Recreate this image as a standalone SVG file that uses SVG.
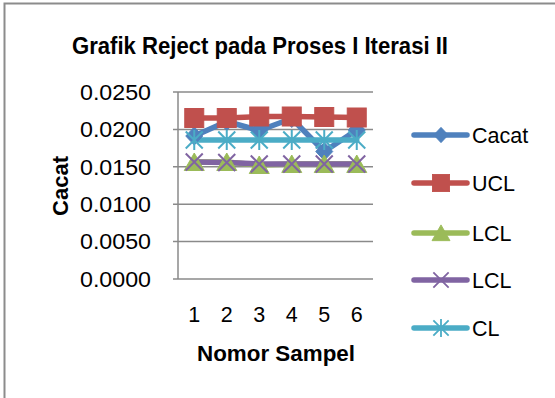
<svg xmlns="http://www.w3.org/2000/svg" xmlns:xlink="http://www.w3.org/1999/xlink" width="555" height="398" viewBox="0 0 555 398">
<style>
text{font-family:"Liberation Sans",Arial,sans-serif;fill:#000}
.t{font-size:23.5px;font-weight:bold}
.ax{font-size:22px;font-weight:bold}
.lbl{font-size:21.5px}
.grid{stroke:#8a8a8a;stroke-width:1.5;fill:none}
.ser{fill:none;stroke-width:5.5;stroke-linecap:round;stroke-linejoin:round}
.blue{stroke:#4F81BD}.red{stroke:#C0504D}.green{stroke:#9BBB59}.purple{stroke:#8064A2}.cyan{stroke:#4BACC6}
</style>
<defs>
<path id="mDia" d="M0,-9 L8.5,0 L0,9 L-8.5,0Z" fill="#4F81BD" stroke="#4F81BD" stroke-width="1"/>
<rect id="mSq" x="-9.5" y="-9.5" width="19" height="19" fill="#C0504D" stroke="#C0504D" stroke-width="1"/>
<path id="mTri" d="M0,-9 L10,8.5 L-10,8.5Z" fill="#9BBB59" stroke="#9BBB59" stroke-width="1"/>
<path id="mX" d="M-8.5,-8.5 L8.5,8.5 M8.5,-8.5 L-8.5,8.5" fill="none" stroke="#8064A2" stroke-width="2"/>
<path id="mStar" d="M-8.5,-8.5 L8.5,8.5 M8.5,-8.5 L-8.5,8.5 M0,-10 L0,10" fill="none" stroke="#4BACC6" stroke-width="2"/>
</defs>
<rect width="555" height="398" fill="#fff"/>
<path d="M4.5,398 L4.5,3.5 L555,3.5" fill="none" stroke="#8c8c8c" stroke-width="2"/>
<text class="t" x="260" y="53.5" text-anchor="middle" textLength="376" lengthAdjust="spacingAndGlyphs">Grafik Reject pada Proses I Iterasi II</text>
<g id="axes">
<path class="grid" d="M173,92 H373 M173,129.4 H373 M173,166.8 H373 M173,204.2 H373 M173,241.6 H373 M173,279 H373 M178,92 V279"/>
<g class="lbl" text-anchor="end">
<text x="151" y="99.8" textLength="71" lengthAdjust="spacingAndGlyphs">0.0250</text>
<text x="151" y="137.2" textLength="71" lengthAdjust="spacingAndGlyphs">0.0200</text>
<text x="151" y="174.6" textLength="71" lengthAdjust="spacingAndGlyphs">0.0150</text>
<text x="151" y="212" textLength="71" lengthAdjust="spacingAndGlyphs">0.0100</text>
<text x="151" y="249.4" textLength="71" lengthAdjust="spacingAndGlyphs">0.0050</text>
<text x="151" y="286.8" textLength="71" lengthAdjust="spacingAndGlyphs">0.0000</text>
</g>
<g class="lbl" text-anchor="middle">
<text x="194.25" y="321.5">1</text>
<text x="226.75" y="321.5">2</text>
<text x="259.25" y="321.5">3</text>
<text x="291.75" y="321.5">4</text>
<text x="324.25" y="321.5">5</text>
<text x="356.75" y="321.5">6</text>
</g>
<text class="ax" x="276" y="360.5" text-anchor="middle" textLength="158" lengthAdjust="spacingAndGlyphs">Nomor Sampel</text>
<text class="ax" transform="translate(67.5,186) rotate(-90)" text-anchor="middle">Cacat</text>
</g>
<g id="connectors">
<polyline class="ser blue" points="194.25,136 226.75,121.5 259.25,130.5 291.75,118.5 324.25,151.5 356.75,130"/>
<polyline class="ser red" points="194.25,118 226.75,118 259.25,116.5 291.75,116.5 324.25,117 356.75,117.5"/>
<polyline class="ser green" points="194.25,162 226.75,162 259.25,165 291.75,164 324.25,164 356.75,164"/>
<polyline class="ser purple" points="194.25,162 226.75,162.5 259.25,164 291.75,164 324.25,164 356.75,164"/>
<polyline class="ser cyan" points="194.25,140 226.75,140 259.25,140 291.75,140 324.25,140 356.75,140"/>
</g>
<g id="series-cacat">
<use xlink:href="#mDia" x="194.25" y="136"/><use xlink:href="#mDia" x="226.75" y="121.5"/><use xlink:href="#mDia" x="259.25" y="130.5"/><use xlink:href="#mDia" x="291.75" y="118.5"/><use xlink:href="#mDia" x="324.25" y="151.5"/><use xlink:href="#mDia" x="356.75" y="130"/>
</g>
<g id="series-ucl">
<use xlink:href="#mSq" x="194.25" y="118"/><use xlink:href="#mSq" x="226.75" y="118"/><use xlink:href="#mSq" x="259.25" y="116.5"/><use xlink:href="#mSq" x="291.75" y="116.5"/><use xlink:href="#mSq" x="324.25" y="117"/><use xlink:href="#mSq" x="356.75" y="117.5"/>
</g>
<g id="series-lcl1">
<use xlink:href="#mTri" x="194.25" y="162"/><use xlink:href="#mTri" x="226.75" y="162"/><use xlink:href="#mTri" x="259.25" y="165"/><use xlink:href="#mTri" x="291.75" y="164"/><use xlink:href="#mTri" x="324.25" y="164"/><use xlink:href="#mTri" x="356.75" y="164"/>
</g>
<g id="series-lcl2">
<use xlink:href="#mX" x="194.25" y="162"/><use xlink:href="#mX" x="226.75" y="162.5"/><use xlink:href="#mX" x="259.25" y="164"/><use xlink:href="#mX" x="291.75" y="164"/><use xlink:href="#mX" x="324.25" y="164"/><use xlink:href="#mX" x="356.75" y="164"/>
</g>
<g id="series-cl">
<use xlink:href="#mStar" x="194.25" y="140"/><use xlink:href="#mStar" x="226.75" y="140"/><use xlink:href="#mStar" x="259.25" y="140"/><use xlink:href="#mStar" x="291.75" y="140"/><use xlink:href="#mStar" x="324.25" y="140"/><use xlink:href="#mStar" x="356.75" y="140"/>
</g>
<g id="legend">
<g id="leg-cacat"><line class="ser blue" x1="414" y1="135" x2="467" y2="135"/><use xlink:href="#mDia" transform="translate(441,135) scale(0.85)"/><text class="lbl" x="472" y="142.8">Cacat</text></g>
<g id="leg-ucl"><line class="ser red" x1="414" y1="183" x2="467" y2="183"/><use xlink:href="#mSq" transform="translate(441,183) scale(0.9)"/><text class="lbl" x="472" y="190.8">UCL</text></g>
<g id="leg-lcl1"><line class="ser green" x1="414" y1="233" x2="467" y2="233"/><use xlink:href="#mTri" transform="translate(441,233) scale(0.9)"/><text class="lbl" x="472" y="240.8">LCL</text></g>
<g id="leg-lcl2"><line class="ser purple" x1="414" y1="280" x2="467" y2="280"/><use xlink:href="#mX" transform="translate(441,280) scale(0.9)"/><text class="lbl" x="472" y="287.8">LCL</text></g>
<g id="leg-cl"><line class="ser cyan" x1="414" y1="328" x2="467" y2="328"/><use xlink:href="#mStar" transform="translate(441,328) scale(0.9)"/><text class="lbl" x="472" y="335.8">CL</text></g>
</g>
</svg>
